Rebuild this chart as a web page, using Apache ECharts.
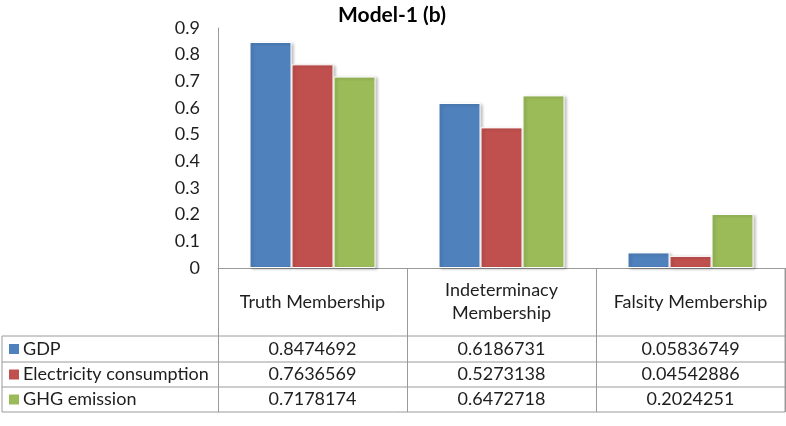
<!DOCTYPE html>
<html><head><meta charset="utf-8">
<script src="https://cdn.jsdelivr.net/npm/echarts@6/dist/echarts.min.js"></script>
<style>html,body{margin:0;padding:0;background:#fff}#c{width:786px;height:426px}</style>
</head><body><div id="c"></div>
<script>
var categories = ['Truth Membership', 'Indeterminacy\nMembership', 'Falsity Membership'];
var seriesNames = ['GDP', 'Electricity consumption', 'GHG emission'];
var gdp = [0.8474692, 0.6186731, 0.05836749];
var electricity = [0.7636569, 0.5273138, 0.04542886];
var ghg = [0.7178174, 0.6472718, 0.2024251];
var colors = ['#4F81BD', '#C0504D', '#9BBB59'];
var yTicks = [0, 0.1, 0.2, 0.3, 0.4, 0.5, 0.6, 0.7, 0.8, 0.9];

var FONT = 'Lato';
var TXT = '#1e1e1e';
var LINE = '#9a9a9a';
var FS = 18;
var allData = [gdp, electricity, ghg];

var chart = echarts.init(document.getElementById('c'), null, {renderer: 'canvas'});
var GRID = {left: 218, right: 1, top: 28, bottom: 158};
var option = {
  animation: false,
  textStyle: {fontFamily: FONT},
  title: {text: 'Model-1 (b)', left: 387, top: 0, textAlign: 'center',
    textStyle: {fontFamily: FONT, fontWeight: 'bold', fontSize: 21, color: '#000'}},
  grid: GRID,
  xAxis: {
    type: 'category', data: categories,
    axisLine: {show: true, lineStyle: {color: LINE, width: 1}},
    axisTick: {show: true, length: 144, lineStyle: {color: LINE, width: 1}},
    axisLabel: {color: TXT, fontSize: FS, fontFamily: FONT, margin: 34, verticalAlign: 'middle', lineHeight: 23, interval: 0}
  },
  yAxis: {
    type: 'value', min: yTicks[0], max: yTicks[yTicks.length - 1], interval: 0.1,
    axisLine: {show: true, lineStyle: {color: LINE, width: 1}},
    axisTick: {show: false},
    splitLine: {show: false},
    axisLabel: {color: TXT, fontSize: FS, fontFamily: FONT, margin: 18,
      formatter: function (v) { return String(Math.round(v * 10) / 10); }}
  },
  series: seriesNames.map(function (n, i) {
    return {
      name: n, type: 'bar', data: allData[i], barWidth: 42, barGap: '0%',
      itemStyle: {color: colors[i], borderColor: '#fff', borderWidth: 1,
        shadowBlur: 3, shadowColor: 'rgba(0,0,0,0.25)', shadowOffsetX: 2, shadowOffsetY: 1}
    };
  })
};
chart.setOption(option);

// Data table below the axis
var rowTops = [336, 362, 387, 412];
var leftX = 2, rightX = 785;
var g = [];
rowTops.forEach(function (y) {
  g.push({type: 'line', shape: {x1: leftX, y1: y, x2: rightX, y2: y}, style: {stroke: LINE, lineWidth: 1}});
});
g.push({type: 'line', shape: {x1: leftX, y1: rowTops[0], x2: leftX, y2: rowTops[3]}, style: {stroke: LINE, lineWidth: 1}});
g.push({type: 'line', shape: {x1: rightX, y1: 268, x2: rightX, y2: rowTops[3]}, style: {stroke: LINE, lineWidth: 1}});
seriesNames.forEach(function (n, i) {
  var cy = (rowTops[i] + rowTops[i + 1]) / 2;
  g.push({type: 'rect', shape: {x: 9, y: cy - 5, width: 10, height: 10}, style: {fill: colors[i]}});
  g.push({type: 'text', x: 23, y: cy, style: {text: n, font: FS + 'px ' + FONT, fill: TXT, textVerticalAlign: 'middle', verticalAlign: 'middle'}});
  categories.forEach(function (c, j) {
    var cx = chart.convertToPixel({xAxisIndex: 0}, j);
    g.push({type: 'text', x: cx, y: cy, style: {text: String(allData[i][j]), font: FS + 'px ' + FONT, fill: TXT,
      align: 'center', textAlign: 'center', verticalAlign: 'middle', textVerticalAlign: 'middle'}});
  });
});
chart.setOption({graphic: g});
</script></body></html>
